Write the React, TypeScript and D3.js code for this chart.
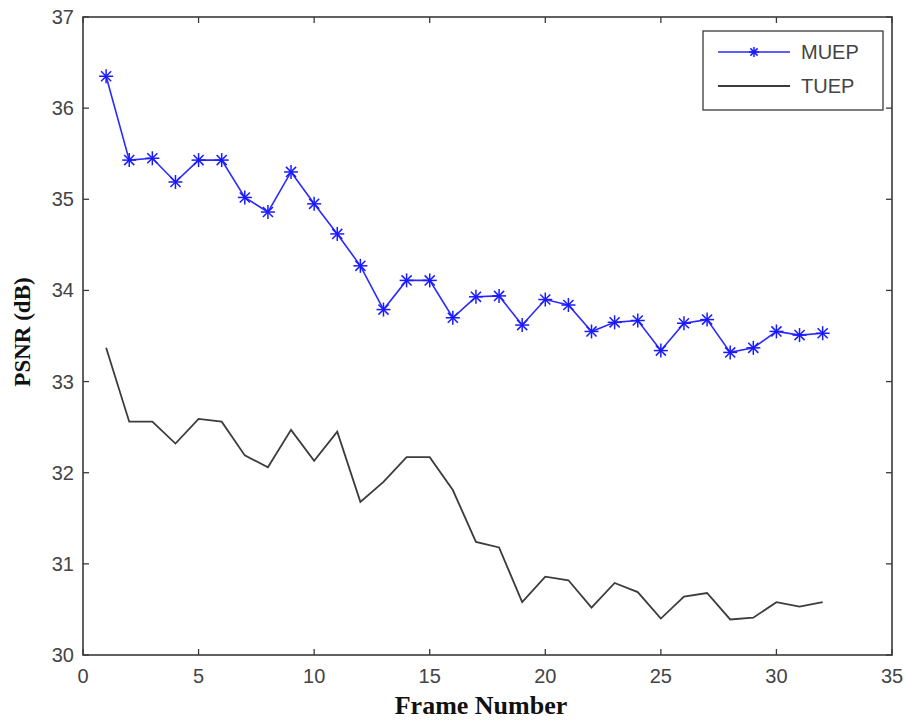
import React from "react";
import * as d3 from "d3";

const frames = d3.range(1, 33);
const muep = [36.35, 35.43, 35.45, 35.19, 35.43, 35.43, 35.02, 34.86, 35.3, 34.95, 34.62, 34.27, 33.79, 34.11, 34.11, 33.7, 33.93, 33.94, 33.62, 33.9, 33.84, 33.55, 33.65, 33.67, 33.34, 33.64, 33.68, 33.32, 33.37, 33.55, 33.51, 33.53];
const tuep = [33.37, 32.56, 32.56, 32.32, 32.59, 32.56, 32.19, 32.06, 32.47, 32.13, 32.45, 31.68, 31.9, 32.17, 32.17, 31.81, 31.24, 31.18, 30.58, 30.86, 30.82, 30.52, 30.79, 30.69, 30.4, 30.64, 30.68, 30.39, 30.41, 30.58, 30.53, 30.58];
const xTicks = [0, 5, 10, 15, 20, 25, 30, 35];
const yTicks = [30, 31, 32, 33, 34, 35, 36, 37];
const seriesNames = ["MUEP", "TUEP"];

const W = 907, H = 722;
const L = 83, R = 892, T = 17, B = 655;

function Star({ x, y, size = 7 }: { x: number; y: number; size?: number }) {
  const s = size;
  const d = size * 0.72;
  return (
    <g stroke="#1a1aff" strokeWidth={1.5}>
      <line x1={x - s} y1={y} x2={x + s} y2={y} />
      <line x1={x} y1={y - s} x2={x} y2={y + s} />
      <line x1={x - d} y1={y - d} x2={x + d} y2={y + d} />
      <line x1={x - d} y1={y + d} x2={x + d} y2={y - d} />
    </g>
  );
}

export default function App() {
  const x = d3.scaleLinear().domain([0, 35]).range([L, R]);
  const y = d3.scaleLinear().domain([30, 37]).range([B, T]);
  const line = d3.line<number>().x((_, i) => x(frames[i])).y((v) => y(v));
  const tick = 6;
  const axisColor = "#3a3a3a";
  const tickFont = "'Liberation Sans', Arial, sans-serif";
  const serif = "'Liberation Serif', 'Times New Roman', serif";
  return (
    <svg width={W} height={H} style={{ position: "absolute", left: 0, top: 0, background: "#fff" }}>
      <rect x={0} y={0} width={W} height={H} fill="#fff" />
      {xTicks.map((t) => (
        <g key={"x" + t}>
          <line x1={x(t)} x2={x(t)} y1={B} y2={B - tick} stroke={axisColor} strokeWidth={1.3} />
          <line x1={x(t)} x2={x(t)} y1={T} y2={T + tick} stroke={axisColor} strokeWidth={1.3} />
          <text x={x(t)} y={B + 28} textAnchor="middle" fontSize={20} fill="#444" fontFamily={tickFont}>{t}</text>
        </g>
      ))}
      {yTicks.map((t) => (
        <g key={"y" + t}>
          <line x1={L} x2={L + tick} y1={y(t)} y2={y(t)} stroke={axisColor} strokeWidth={1.3} />
          <line x1={R} x2={R - tick} y1={y(t)} y2={y(t)} stroke={axisColor} strokeWidth={1.3} />
          <text x={L - 9} y={y(t) + 7} textAnchor="end" fontSize={20} fill="#444" fontFamily={tickFont}>{t}</text>
        </g>
      ))}
      <rect x={L} y={T} width={R - L} height={B - T} fill="none" stroke={axisColor} strokeWidth={1.6} />
      <path d={line(tuep) || ""} fill="none" stroke="#3c3c3c" strokeWidth={1.8} />
      <path d={line(muep) || ""} fill="none" stroke="#2a2aff" strokeWidth={1.6} />
      {muep.map((v, i) => (
        <Star key={i} x={x(frames[i])} y={y(v)} />
      ))}
      <rect x={703} y={31} width={180} height={79} fill="#fff" stroke={axisColor} strokeWidth={1.3} />
      <line x1={718} x2={790} y1={52} y2={52} stroke="#2a2aff" strokeWidth={1.6} />
      <Star x={754} y={52} size={5} />
      <line x1={718} x2={790} y1={86} y2={86} stroke="#3c3c3c" strokeWidth={1.8} />
      <text x={801} y={59} fontSize={20} fill="#444" fontFamily={tickFont}>{seriesNames[0]}</text>
      <text x={801} y={93} fontSize={20} fill="#444" fontFamily={tickFont}>{seriesNames[1]}</text>
      <text x={481} y={714} textAnchor="middle" fontSize={26} fontWeight="bold" fill="#111" fontFamily={serif}>Frame Number</text>
      <text transform={`translate(30, 332) rotate(-90)`} textAnchor="middle" fontSize={23} fontWeight="bold" fill="#111" fontFamily={serif}>PSNR (dB)</text>
    </svg>
  );
}
